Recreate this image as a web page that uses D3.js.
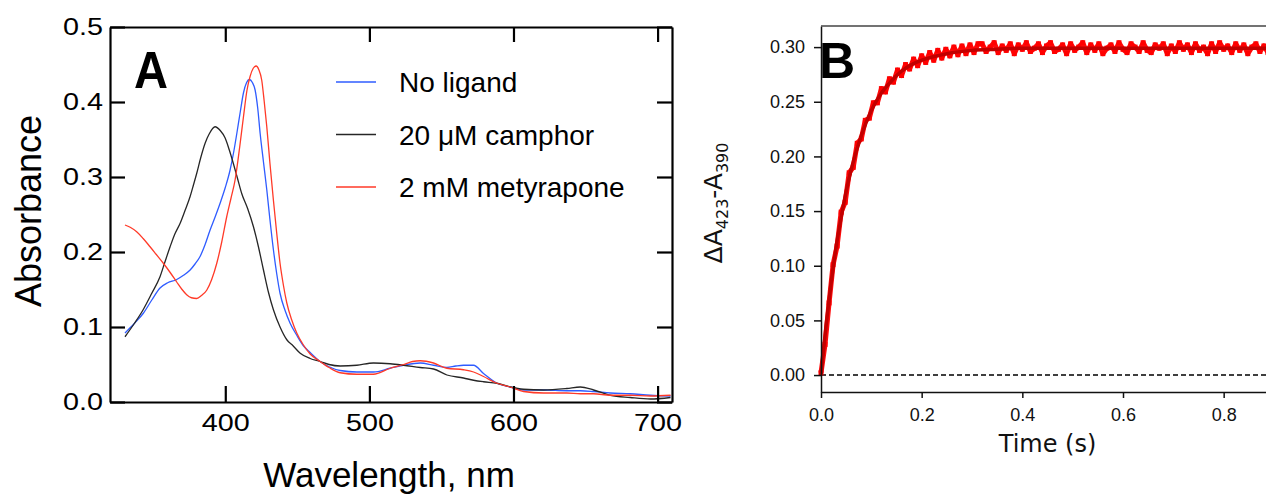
<!DOCTYPE html>
<html>
<head>
<meta charset="utf-8">
<script src="https://cdn.jsdelivr.net/npm/d3@7"></script>
<style>
  body { margin: 0; background: #fff; }
  svg { display: block; }
</style>
</head>
<body>
<div id="chart"></div>
<script>
// Panel A : absorbance spectra, Panel B : binding kinetics

// ---- Panel A data ----
var noLigandNm = [330.4, 337, 343, 349, 354.7, 360, 366, 371, 375.6, 379, 382.5, 386, 389.4, 393, 396.4, 400, 403.3, 406, 408, 410.5, 412.6, 414.8, 416.7, 418.8, 420.7, 422.5, 424.2, 426.5, 428.8, 431, 433.4, 435.7, 438, 441.5, 445, 449.6, 454.2, 458.9, 465.8, 472, 479.7, 491.3, 502.8, 514.4, 523.7, 535.3, 544.5, 553.8, 560, 565.3, 572.3, 579.2, 588.5, 597.8, 607, 620.9, 637, 646.4, 655.6, 667.2, 681, 695, 709];
var noLigandAbs = [0.092, 0.105, 0.118, 0.136, 0.152, 0.159, 0.163, 0.169, 0.176, 0.184, 0.194, 0.210, 0.229, 0.247, 0.265, 0.286, 0.309, 0.335, 0.358, 0.388, 0.412, 0.426, 0.430, 0.426, 0.416, 0.392, 0.358, 0.320, 0.283, 0.243, 0.203, 0.171, 0.145, 0.122, 0.105, 0.089, 0.075, 0.066, 0.054, 0.047, 0.042, 0.040, 0.040, 0.045, 0.049, 0.052, 0.049, 0.046, 0.048, 0.049, 0.049, 0.038, 0.025, 0.020, 0.016, 0.016, 0.015, 0.015, 0.014, 0.012, 0.011, 0.009, 0.008];

var camphorNm = [330.4, 337, 343, 349, 354.7, 358, 361.7, 365, 368.6, 372, 375.6, 378, 380.2, 383, 386, 389, 392.9, 396.5, 399.9, 402.8, 405.6, 408.5, 411.4, 415.5, 419.5, 423, 426.5, 430, 433.4, 438, 442.7, 447, 452, 458.9, 465.8, 472, 479.7, 491.3, 502.8, 514.4, 523.7, 535.3, 544.5, 553.8, 565.3, 572.3, 579.2, 588.5, 597.8, 607, 620.9, 637, 646.4, 655.6, 667.2, 681, 695, 709];
var camphorAbs = [0.087, 0.105, 0.123, 0.145, 0.167, 0.186, 0.207, 0.224, 0.238, 0.255, 0.274, 0.290, 0.305, 0.326, 0.345, 0.358, 0.367, 0.362, 0.352, 0.336, 0.318, 0.298, 0.278, 0.258, 0.234, 0.207, 0.176, 0.146, 0.123, 0.100, 0.083, 0.075, 0.065, 0.058, 0.054, 0.050, 0.048, 0.049, 0.052, 0.051, 0.049, 0.046, 0.044, 0.036, 0.032, 0.029, 0.027, 0.025, 0.020, 0.017, 0.016, 0.018, 0.020, 0.016, 0.009, 0.006, 0.004, 0.006];

var metyraponeNm = [330.4, 334, 338.5, 343, 347.8, 352, 357, 362, 366.3, 370, 373.2, 376.5, 380.2, 383.5, 387.1, 390.5, 394.1, 397.5, 401, 404, 406.8, 410, 412.6, 415, 417.2, 419.4, 421.4, 423.3, 425.3, 427, 428.8, 431, 433.4, 435.7, 438, 440.4, 442.7, 446, 449.6, 454.2, 458.9, 465.8, 472, 479.7, 491.3, 502.8, 514.4, 523.7, 530, 535.3, 544.5, 553.8, 565.3, 572.3, 579.2, 588.5, 597.8, 607, 620.9, 637, 646.4, 655.6, 667.2, 681, 695, 709];
var metyraponeAbs = [0.236, 0.233, 0.227, 0.218, 0.207, 0.197, 0.185, 0.172, 0.160, 0.150, 0.143, 0.139, 0.138, 0.142, 0.149, 0.163, 0.185, 0.213, 0.247, 0.272, 0.296, 0.340, 0.380, 0.415, 0.434, 0.445, 0.448, 0.443, 0.429, 0.401, 0.367, 0.318, 0.269, 0.225, 0.185, 0.155, 0.132, 0.110, 0.092, 0.076, 0.064, 0.054, 0.046, 0.039, 0.037, 0.037, 0.045, 0.050, 0.054, 0.055, 0.052, 0.045, 0.043, 0.040, 0.034, 0.025, 0.020, 0.014, 0.012, 0.012, 0.011, 0.011, 0.009, 0.009, 0.008, 0.009];

var seriesNames = ["No ligand", "20 \u03bcM camphor", "2 mM metyrapone"];
var seriesColors = ["#2f5cff", "#262626", "#ff3a28"];

var wavelengthTicks = [400, 500, 600, 700];
var absorbanceTicks = [0.0, 0.1, 0.2, 0.3, 0.4, 0.5];

// ---- Panel B data ----
var kinStep = 0.008; // s between recorded points
var kinValues = [0.002, 0.028, 0.066, 0.101, 0.118, 0.149, 0.158, 0.185, 0.190, 0.212,
  0.216, 0.233, 0.235, 0.249, 0.249, 0.262, 0.259, 0.271, 0.268, 0.279,
  0.274, 0.284, 0.280, 0.289, 0.283, 0.292, 0.286, 0.295, 0.288, 0.297,
  0.290, 0.298, 0.292, 0.300, 0.293, 0.301, 0.294, 0.302, 0.295, 0.303,
  0.303, 0.296, 0.300, 0.304, 0.295, 0.301, 0.297, 0.303, 0.294, 0.302,
  0.298, 0.304, 0.296, 0.299, 0.303, 0.295, 0.301, 0.304, 0.296, 0.298,
  0.302, 0.294, 0.303, 0.297, 0.300, 0.304, 0.295, 0.302, 0.297, 0.303,
  0.294, 0.299, 0.302, 0.296, 0.304, 0.298, 0.295, 0.303, 0.300, 0.296,
  0.304, 0.297, 0.295, 0.302, 0.299, 0.303, 0.294, 0.301, 0.296, 0.304,
  0.298, 0.302, 0.295, 0.303, 0.297, 0.300, 0.294, 0.303, 0.296, 0.304,
  0.298, 0.301, 0.295, 0.303, 0.297, 0.302, 0.294, 0.300, 0.303, 0.296,
  0.301, 0.295, 0.304];
var fitTime = [0, 0.01, 0.02, 0.03, 0.04, 0.05, 0.06, 0.08, 0.10, 0.12, 0.14, 0.16, 0.18, 0.20, 0.25, 0.30, 0.35, 0.40, 0.50, 0.60, 0.70, 0.80, 0.90];
var fitValues = [0, 0.045, 0.084, 0.117, 0.144, 0.168, 0.188, 0.219, 0.242, 0.258, 0.269, 0.278, 0.284, 0.288, 0.294, 0.297, 0.298, 0.299, 0.299, 0.299, 0.299, 0.299, 0.299];

var timeTicks = [0.0, 0.2, 0.4, 0.6, 0.8];
var deltaTicks = [0.00, 0.05, 0.10, 0.15, 0.20, 0.25, 0.30];

var width = 1266, height = 495;

var svg = d3.select("#chart").append("svg")
    .attr("width", width)
    .attr("height", height);

// stretch a text sideways, the tick labels in panel A are wide
function widen(sel, f) {
  sel.each(function() {
    var w = this.getComputedTextLength();
    d3.select(this).attr("textLength", w * f).attr("lengthAdjust", "spacingAndGlyphs");
  });
}

///////////////////////////////////////////////////////////////////////////////
// Panel A
///////////////////////////////////////////////////////////////////////////////
var xA = d3.scaleLinear().domain([320, 710]).range([110, 672]);
var yA = d3.scaleLinear().domain([0, 0.5]).range([402, 27]);

var gA = svg.append("g").style("font-family", "'Liberation Sans', Arial, sans-serif");

var lineA = d3.line()
    .x(function(d) { return xA(d[0]); })
    .y(function(d) { return yA(d[1]); })
    .curve(d3.curveMonotoneX);

var spectra = [
  d3.zip(noLigandNm, noLigandAbs),
  d3.zip(camphorNm, camphorAbs),
  d3.zip(metyraponeNm, metyraponeAbs)
];

gA.selectAll(".spectrum")
  .data(spectra)
  .enter().append("path")
  .attr("class", "spectrum")
  .attr("d", lineA)
  .attr("fill", "none")
  .attr("stroke", function(d, i) { return seriesColors[i]; })
  .attr("stroke-width", 1.3);

// frame + inward ticks on all four sides
var axBottom = gA.append("g")
    .attr("transform", "translate(0," + yA(0) + ")")
    .call(d3.axisBottom(xA).tickValues(wavelengthTicks).tickSize(-16).tickSizeOuter(0).tickPadding(13));
var axLeft = gA.append("g")
    .attr("transform", "translate(" + xA(320) + ",0)")
    .call(d3.axisLeft(yA).tickValues(absorbanceTicks).tickFormat(d3.format(".1f")).tickSize(-15).tickSizeOuter(0).tickPadding(7));
gA.append("g")
    .attr("transform", "translate(0," + yA(0.5) + ")")
    .call(d3.axisTop(xA).tickValues(wavelengthTicks).tickSize(-15).tickSizeOuter(0).tickFormat(""));
gA.append("g")
    .attr("transform", "translate(" + xA(710) + ",0)")
    .call(d3.axisRight(yA).tickValues(absorbanceTicks).tickSize(-15).tickSizeOuter(0).tickFormat(""));

gA.selectAll(".domain, .tick line")
    .attr("stroke", "#000")
    .attr("stroke-width", 2.2);

gA.selectAll(".tick text")
    .attr("fill", "#000")
    .style("font-size", "23px");
widen(axBottom.selectAll(".tick text"), 1.25);
widen(axLeft.selectAll(".tick text"), 1.25);

gA.append("text")
    .attr("x", (xA(320) + xA(710)) / 2 - 2)
    .attr("y", 487)
    .attr("text-anchor", "middle")
    .style("font-size", "35px")
    .text("Wavelength, nm");

gA.append("text")
    .attr("transform", "translate(41," + 211 + ") rotate(-90)")
    .attr("text-anchor", "middle")
    .style("font-size", "36px")
    .text("Absorbance");

gA.append("text")
    .attr("x", 134)
    .attr("y", 88)
    .style("font-size", "52px")
    .style("font-weight", "bold")
    .attr("textLength", 34)
    .attr("lengthAdjust", "spacingAndGlyphs")
    .text("A");

// legend
var legend = gA.selectAll(".legendA")
  .data(seriesNames)
  .enter().append("g")
  .attr("class", "legendA")
  .attr("transform", function(d, i) { return "translate(336," + (82 + i * 52.5) + ")"; });

legend.append("line")
  .attr("x1", 0).attr("x2", 40)
  .attr("stroke", function(d, i) { return seriesColors[i]; })
  .attr("stroke-width", 1.3);

legend.append("text")
  .attr("x", 63)
  .attr("y", 10)
  .style("font-size", "28px")
  .text(function(d) { return d; });

///////////////////////////////////////////////////////////////////////////////
// Panel B
///////////////////////////////////////////////////////////////////////////////
var xB = d3.scaleLinear().domain([0, 0.9]).range([821, 1274]);
var yB = d3.scaleLinear().domain([-0.0155, 0.3193]).range([392, 26]);

var gB = svg.append("g").style("font-family", "'DejaVu Sans', Verdana, sans-serif");

var kinPoints = kinValues.map(function(v, i) { return [i * kinStep, v]; });

var lineB = d3.line()
    .x(function(d) { return xB(d[0]); })
    .y(function(d) { return yB(d[1]); });

// zero baseline
gB.append("line")
    .attr("x1", xB(0)).attr("x2", xB(0.9))
    .attr("y1", yB(0)).attr("y2", yB(0))
    .attr("stroke", "#000")
    .attr("stroke-width", 1.6)
    .attr("stroke-dasharray", "5,3");

// recorded trace
gB.append("path")
    .attr("d", lineB(kinPoints))
    .attr("fill", "none")
    .attr("stroke", "#ff0a0a")
    .attr("stroke-width", 5)
    .attr("stroke-linejoin", "round");

gB.selectAll(".pt")
  .data(kinPoints)
  .enter().append("rect")
  .attr("class", "pt")
  .attr("x", function(d) { return xB(d[0]) - 2.5; })
  .attr("y", function(d) { return yB(d[1]) - 2.5; })
  .attr("width", 5)
  .attr("height", 5)
  .attr("fill", "#ff0000");

// single exponential fit
gB.append("path")
    .attr("d", lineB.curve(d3.curveMonotoneX)(d3.zip(fitTime, fitValues)))
    .attr("fill", "none")
    .attr("stroke", "#c20000")
    .attr("stroke-width", 3.5);

var bAxBottom = gB.append("g")
    .attr("transform", "translate(0,392)")
    .call(d3.axisBottom(xB).tickValues(timeTicks).tickFormat(d3.format(".1f")).tickSize(6).tickSizeOuter(0).tickPadding(10));
var bAxLeft = gB.append("g")
    .attr("transform", "translate(821,0)")
    .call(d3.axisLeft(yB).tickValues(deltaTicks).tickFormat(d3.format(".2f")).tickSize(7).tickSizeOuter(0).tickPadding(9));

gB.append("line")
    .attr("x1", 821).attr("x2", 1274)
    .attr("y1", 26).attr("y2", 26)
    .attr("stroke", "#444")
    .attr("stroke-width", 1.5);

gB.selectAll(".domain, .tick line")
    .attr("stroke", "#111")
    .attr("stroke-width", 1.5);
gB.selectAll(".tick text")
    .attr("fill", "#111")
    .style("font-size", "18px");

gB.append("text")
    .attr("x", xB(0.45))
    .attr("y", 452)
    .attr("text-anchor", "middle")
    .attr("fill", "#111")
    .style("font-size", "24px")
    .text("Time (s)");

var yLab = gB.append("text")
    .attr("transform", "translate(722,203) rotate(-90)")
    .attr("text-anchor", "middle")
    .attr("fill", "#111")
    .style("font-size", "25px");
yLab.append("tspan").text("\u0394A");
yLab.append("tspan").attr("dy", 6).style("font-size", "16px").text("423");
yLab.append("tspan").attr("dy", -6).text("-A");
yLab.append("tspan").attr("dy", 6).style("font-size", "16px").text("390");

svg.append("text")
    .attr("x", 819)
    .attr("y", 78)
    .style("font-family", "'Liberation Sans', Arial, sans-serif")
    .style("font-size", "50px")
    .style("font-weight", "bold")
    .text("B");
</script>
</body>
</html>
